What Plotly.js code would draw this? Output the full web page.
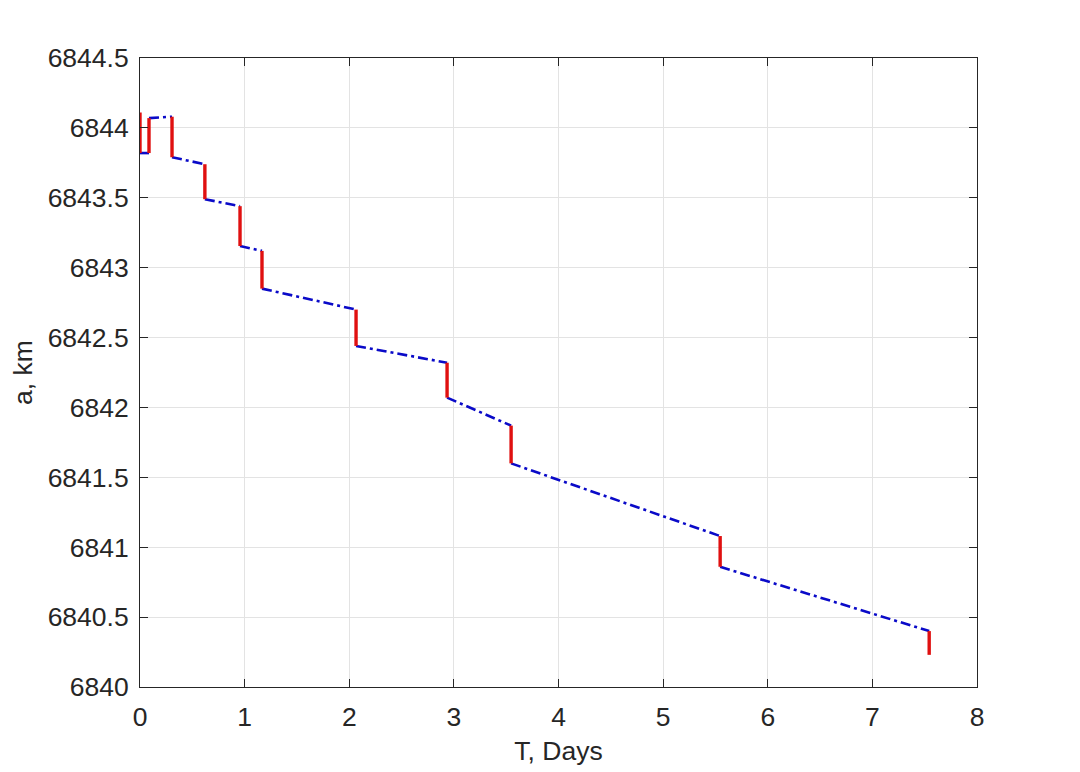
<!DOCTYPE html>
<html>
<head>
<meta charset="utf-8">
<script src="https://cdn.plot.ly/plotly-3.0.1.min.js"></script>
<style>html,body{margin:0;padding:0;background:#fff;}#chart{width:1080px;height:772px;}</style>
</head>
<body>
<div id="chart"></div>
<script>
// Manoeuvre (burn) times in days and semi-major axis before / after each burn, km
const burnT   = [0, 0.086, 0.306, 0.62, 0.956, 1.166, 2.065, 2.935, 3.547, 5.545, 7.543];
const aBefore = [6844.11, 6843.82, 6844.08, 6843.74, 6843.44, 6843.12, 6842.70, 6842.32, 6841.87, 6841.08, 6840.40];
const aAfter  = [6843.82, 6844.07, 6843.79, 6843.49, 6843.155, 6842.85, 6842.44, 6842.07, 6841.60, 6840.86, 6840.23];

const xTicks = [0, 1, 2, 3, 4, 5, 6, 7, 8];
const yTicks = [6840, 6840.5, 6841, 6841.5, 6842, 6842.5, 6843, 6843.5, 6844, 6844.5];
const yTickText = ['6840', '6840.5', '6841', '6841.5', '6842', '6842.5', '6843', '6843.5', '6844', '6844.5'];

// coast arcs (blue dash-dot)
const cx = [], cy = [];
for (let i = 0; i < burnT.length - 1; i++) {
  cx.push(burnT[i], burnT[i + 1], null);
  cy.push(aAfter[i], aBefore[i + 1], null);
}
// burns (red solid)
const bx = [], by = [];
for (let i = 0; i < burnT.length; i++) {
  bx.push(burnT[i], burnT[i], null);
  by.push(aBefore[i], aAfter[i], null);
}

const traces = [
  {x: cx, y: cy, mode: 'lines', type: 'scatter', connectgaps: false,
   line: {color: '#0a0ac8', width: 2.6, dash: '10px,4px,3px,4px'}, hoverinfo: 'skip'},
  {x: bx, y: by, mode: 'lines', type: 'scatter', connectgaps: false,
   line: {color: '#e01010', width: 3.4}, hoverinfo: 'skip'}
];

const font = {family: 'Liberation Sans, Arial, Helvetica, sans-serif', size: 26.5, color: '#262626'};
const axisCommon = {
  showline: true, linecolor: '#262626', linewidth: 1, mirror: 'allticks',
  ticks: 'inside', ticklen: 8, tickwidth: 1, tickcolor: '#262626',
  showgrid: true, gridcolor: '#e3e3e3', gridwidth: 1, zeroline: false,
  tickfont: font
};

const layout = {
  width: 1080, height: 772,
  margin: {l: 140, r: 103, t: 58, b: 85},
  paper_bgcolor: '#ffffff', plot_bgcolor: '#ffffff',
  showlegend: false,
  font: font,
  xaxis: Object.assign({}, axisCommon, {
    range: [0, 8], tickvals: xTicks, ticktext: xTicks.map(String),
    ticklabelstandoff: 6,
    title: {text: 'T, Days', font: font, standoff: 10}
  }),
  yaxis: Object.assign({}, axisCommon, {
    range: [6840, 6844.5], tickvals: yTicks, ticktext: yTickText,
    ticklabelstandoff: 5,
    title: {text: 'a, km', font: font, standoff: 7}
  })
};

Plotly.newPlot('chart', traces, layout, {staticPlot: true, displayModeBar: false});
</script>
</body>
</html>
